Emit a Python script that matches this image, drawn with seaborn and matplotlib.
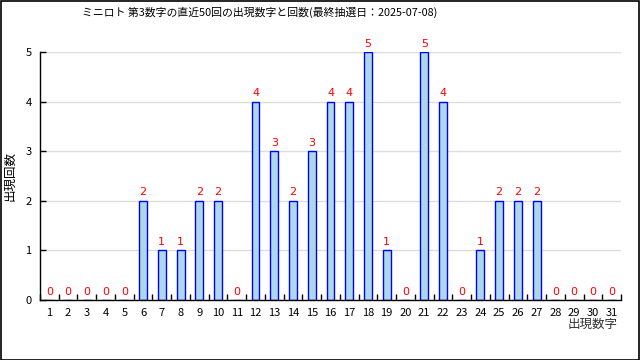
import matplotlib
matplotlib.use("Agg")
import matplotlib.pyplot as plt
import seaborn as sns
import pandas as pd
from matplotlib.patches import Rectangle

numbers = [str(i) for i in range(1, 32)]
counts = [0, 0, 0, 0, 0, 2, 1, 1, 2, 2, 0, 4, 3, 2, 3, 4, 4, 5, 1, 0,
          5, 4, 0, 1, 2, 2, 2, 0, 0, 0, 0]
title = "ミニロト 第3数字の直近50回の出現数字と回数(最終抽選日：2025-07-08)"
xlabel = "出現数字"
ylabel = "出現回数"

sns.set_theme(style="white")
plt.rcParams['font.family'] = ['Noto Sans CJK JP', 'DejaVu Sans']

df = pd.DataFrame({"num": numbers, "count": counts})

fig = plt.figure(figsize=(6.4, 3.6), dpi=100)
ax = fig.add_axes([40/640, 60/360, 581/640, 248/360])
sns.barplot(data=df, x="num", y="count", color="#ADD8E6", edgecolor="#0000FF",
            linewidth=1.0, width=0.42, saturation=1, ax=ax)

ax.set_xlim(-0.5, 30.5)
ax.set_ylim(0, 5)
ax.set_yticks(range(0, 6))
ax.yaxis.grid(True, color="#DDDDDD", linewidth=1)
ax.set_axisbelow(True)
for s in ["top", "right"]:
    ax.spines[s].set_visible(False)
for s in ["left", "bottom"]:
    ax.spines[s].set_color("black")
    ax.spines[s].set_linewidth(1)

ax.set_xticks(range(31))
ax.set_xticklabels(numbers)
ax.set_xticks([i + 0.5 for i in range(-1, 31)], minor=True)
ax.tick_params(axis="x", which="major", length=0, pad=6, labelsize=8, colors="black")
ax.tick_params(axis="x", which="minor", direction="in", length=4, width=1, color="black", bottom=True)
ax.tick_params(axis="y", which="major", direction="in", length=4, width=1, color="black",
               labelsize=8, pad=6, left=True, colors="black")

for i, c in enumerate(counts):
    ax.annotate(str(c), (i, c), xytext=(0, 2.5), textcoords="offset points",
                ha="center", va="bottom", color="red", fontsize=8, clip_on=False,
                family="DejaVu Sans")

ax.set_xlabel("")
ax.set_ylabel("")
fig.text(618/640, 1 - 324/360, xlabel, ha="right", va="center", fontsize=9, color="#333333")
fig.text(10/640, 1 - 176/360, ylabel, ha="center", va="center", rotation=90, fontsize=9, color="black")
fig.text(82/640, 1 - 12/360, title, ha="left", va="center", fontsize=7.8, color="black")

fig.patches.append(Rectangle((0.5/640, 0.5/360), 1 - 1.5/640, 1 - 1.5/360, transform=fig.transFigure,
                             fill=False, edgecolor="black", linewidth=1.2))

fig.savefig("out.png", dpi=100)
